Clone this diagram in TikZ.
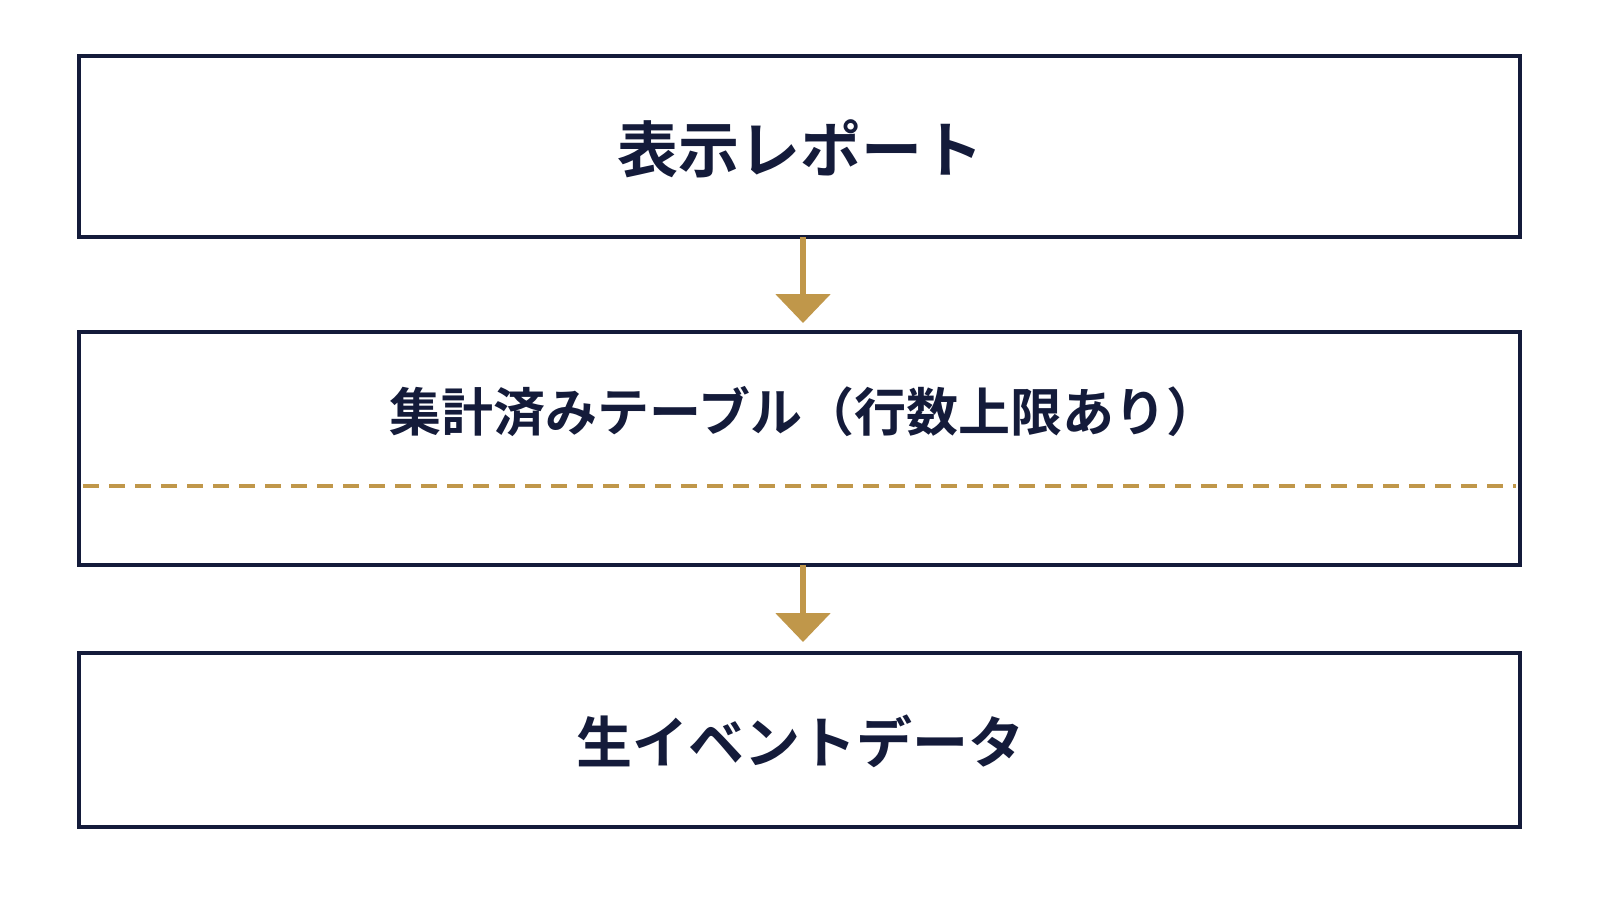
\documentclass[tikz,border=0pt]{standalone}
\usepackage{fontspec}
\newfontfamily\cjk{Noto Sans CJK JP Bold}
\usetikzlibrary{arrows.meta}
\definecolor{navy}{HTML}{141B3A}
\definecolor{gold}{HTML}{C0974A}
\begin{document}
\begin{tikzpicture}[x=1pt,y=-1pt,
  box/.style={draw=navy,line width=3.5pt,fill=white},
  lab/.style={text=navy,font=\cjk},
  arr/.style={draw=gold,line width=6pt,-{Triangle[width=54pt,length=29pt]}}]
\useasboundingbox (0,0) rectangle (1600,900);
\draw[box] (79,56) rectangle (1520,237);
\draw[box] (79,332) rectangle (1520,565);
\draw[box] (79,653) rectangle (1520,827);
\coordinate (b1) at (803,237);
\coordinate (t2) at (803,323);
\coordinate (b2) at (803,565);
\coordinate (t3) at (803,642);
\draw[gold,line width=4.5pt,dash pattern=on 16pt off 10pt] (83,486) -- (1516,486);
\node[lab,font=\cjk\fontsize{61}{64}\selectfont] (n1) at (800,149) {表示レポート};
\node[lab,font=\cjk\fontsize{52}{56}\selectfont] (n2) at (804,412) {集計済みテーブル（行数上限あり）};
\node[lab,font=\cjk\fontsize{56}{60}\selectfont] (n3) at (800,741) {生イベントデータ};
\draw[arr] (b1) -- (t2);
\draw[arr] (b2) -- (t3);
\end{tikzpicture}
\end{document}
